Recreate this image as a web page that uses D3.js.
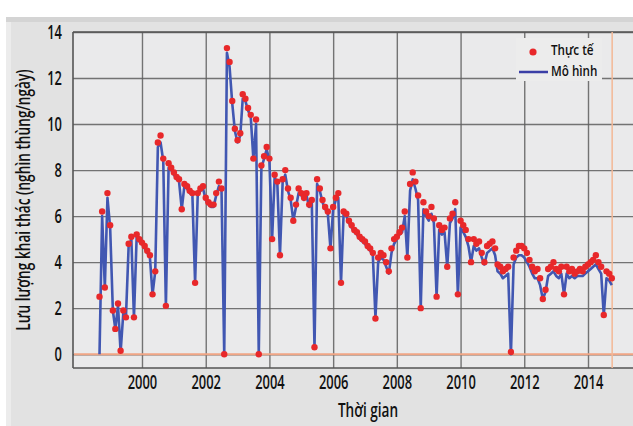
<!DOCTYPE html>
<html>
<head>
<meta charset="utf-8">
<script src="https://cdn.jsdelivr.net/npm/d3@7"></script>
<style>
  body { margin: 0; background: #fff; }
  svg text { font-family: "Open Sans", "Noto Sans", "DejaVu Sans", sans-serif; font-weight: 600; fill: #111; }
</style>
</head>
<body>
<div id="vis"></div>
<script>
// monthly series, first value = Sep 1998
var startMonth = "1998-09";

var actual = [
  2.5, 6.2, 2.9, 7.0,                                                  // 1998
  5.6, 1.9, 1.1, 2.2, 0.15, 1.9, 1.6, 4.8, 5.1, 1.6, 5.2, 5.0,         // 1999
  4.85, 4.7, 4.5, 4.3, 2.6, 3.6, 9.2, 9.5, 8.5, 2.1, 8.3, 8.1,         // 2000
  7.9, 7.7, 7.6, 6.3, 7.4, 7.3, 7.1, 7.0, 3.1, 7.0, 7.2, 7.3,          // 2001
  6.8, 6.6, 6.5, 6.5, 7.0, 7.5, 7.2, 0.0, 13.3, 12.7, 11.0, 9.8,       // 2002
  9.3, 9.6, 11.3, 11.1, 10.7, 10.4, 8.5, 10.2, 0.0, 8.2, 8.6, 9.0,     // 2003
  8.5, 5.0, 7.8, 7.5, 4.3, 7.6, 8.0, 7.2, 6.8, 5.8, 6.5, 7.2,          // 2004
  7.0, 6.8, 7.0, 6.5, 6.7, 0.3, 7.6, 7.2, 6.7, 6.4, 6.2, 4.6,          // 2005
  6.4, 6.8, 7.0, 3.1, 6.2, 6.1, 5.8, 5.6, 5.4, 5.3, 5.1, 5.0,          // 2006
  4.9, 4.7, 4.6, 4.4, 1.55, 4.2, 4.4, 4.3, 4.0, 3.6, 4.6, 5.0,         // 2007
  5.1, 5.3, 5.5, 6.2, 4.2, 7.4, 7.9, 7.5, 6.9, 2.0, 6.6, 6.2,          // 2008
  6.0, 6.4, 5.9, 2.5, 5.6, 5.4, 5.5, 3.8, 5.9, 6.1, 6.6, 2.6,          // 2009
  5.8, 5.6, 5.4, 5.0, 4.0, 5.0, 4.8, 4.9, 4.4, 4.0, 4.7, 4.8,          // 2010
  4.9, 4.6, 3.9, 3.8, 3.6, 3.7, 3.8, 0.1, 4.2, 4.5, 4.7, 4.7,          // 2011
  4.6, 4.4, 4.1, 3.8, 3.6, 3.7, 3.3, 2.4, 2.8, 3.7, 3.8, 4.0,          // 2012
  3.7, 3.6, 3.8, 2.6, 3.8, 3.6, 3.7, 3.5, 3.6, 3.7, 3.6, 3.8,          // 2013
  3.9, 4.0, 4.1, 4.3, 4.0, 3.8, 1.7, 3.6, 3.5, 3.3                     // 2014
];

var model = [
  0.0, 6.0, 2.9, 6.8,
  5.5, 1.9, 1.1, 2.1, 0.1, 1.8, 1.6, 4.7, 5.0, 1.6, 5.1, 4.9,
  4.8, 4.6, 4.4, 4.2, 2.6, 3.6, 9.0, 9.2, 8.4, 2.1, 8.1, 8.0,
  7.8, 7.6, 7.5, 6.3, 7.3, 7.2, 7.0, 6.9, 3.1, 6.9, 7.1, 7.2,
  6.7, 6.5, 6.4, 6.4, 6.9, 7.3, 7.1, 0.0, 13.1, 12.5, 10.9, 9.7,
  9.2, 9.5, 11.1, 11.0, 10.6, 10.3, 8.5, 10.0, 0.0, 8.1, 8.5, 8.9,
  8.4, 5.0, 7.7, 7.4, 4.3, 7.5, 7.8, 7.1, 6.7, 5.8, 6.4, 7.0,
  6.9, 6.7, 6.9, 6.4, 6.6, 0.3, 7.4, 7.1, 6.6, 6.3, 6.1, 4.6,
  6.3, 6.7, 6.8, 3.1, 6.1, 6.0, 5.7, 5.5, 5.3, 5.2, 5.0, 4.9,
  4.8, 4.6, 4.5, 4.3, 1.6, 4.0, 4.2, 4.1, 3.8, 3.5, 4.4, 4.8,
  5.0, 5.2, 5.3, 6.0, 4.2, 7.1, 7.6, 7.2, 6.7, 2.0, 6.3, 6.0,
  5.8, 6.1, 5.7, 2.5, 5.4, 5.2, 5.3, 3.8, 5.7, 5.9, 6.3, 2.6,
  5.5, 5.3, 5.1, 4.7, 4.0, 4.7, 4.5, 4.6, 4.2, 3.9, 4.4, 4.5,
  4.6, 4.3, 3.6, 3.5, 3.3, 3.4, 3.5, 0.0, 3.9, 4.2, 4.3, 4.3,
  4.2, 4.0, 3.8, 3.5, 3.3, 3.3, 3.0, 2.4, 2.7, 3.4, 3.5, 3.6,
  3.4, 3.3, 3.5, 2.6, 3.5, 3.3, 3.4, 3.3, 3.4, 3.4, 3.4, 3.5,
  3.6, 3.7, 3.8, 3.9, 3.7, 3.5, 1.7, 3.3, 3.2, 3.0
];

var yTicks = [0, 2, 4, 6, 8, 10, 12, 14];
var xTickYears = [2000, 2002, 2004, 2006, 2008, 2010, 2012, 2014];
var cutoffDate = "2014-10-05";

var seriesNames = ["Thực tế", "Mô hình"];
var xTitle = "Thời gian";
var yTitle = "Lưu lượng khai thác (nghìn thùng/ngày)";

// layout
var width = 633, height = 426;
var plot = { left: 73, right: 633, top: 32, bottom: 368 };
var SQ = 0.68; // horizontal squeeze to mimic a condensed face

var parseMonth = d3.timeParse("%Y-%m");
var parseDay = d3.timeParse("%Y-%m-%d");
var start = parseMonth(startMonth);

var data = actual.map(function (v, i) {
  return { date: d3.timeMonth.offset(start, i), actual: v, model: model[i] };
});

var x = d3.scaleTime()
  .domain([new Date(1997, 10, 1), new Date(2015, 5, 1)])
  .range([plot.left, plot.right]);

var y = d3.scaleLinear()
  .domain([-0.6, 14])
  .range([plot.bottom, plot.top]);

function squeeze(sel, k) {
  k = k || SQ;
  sel.each(function () {
    var t = d3.select(this);
    var tx = +t.attr("x") || 0;
    t.attr("x", tx / k).attr("transform", "scale(" + k + ",1)");
  });
}

var svg = d3.select("#vis").append("svg")
  .attr("width", width)
  .attr("height", height);

// outer panel
svg.append("rect").attr("x", 6).attr("y", 17).attr("width", width - 6).attr("height", height - 17).attr("fill", "#e2e2e2");
svg.append("rect").attr("x", 6).attr("y", 17).attr("width", width - 6).attr("height", 5).attr("fill", "#d4d4d4");
svg.append("rect").attr("x", 6).attr("y", 22).attr("width", 5).attr("height", height - 22).attr("fill", "#ececec");

// plot background
svg.append("rect")
  .attr("x", plot.left).attr("y", plot.top)
  .attr("width", plot.right - plot.left).attr("height", plot.bottom - plot.top)
  .attr("fill", "#eaeaeb");

var fontSize = 19;

// y grid + labels
var gy = svg.append("g")
  .attr("class", "y axis")
  .attr("transform", "translate(" + plot.left + ",0)")
  .call(d3.axisLeft(y).tickValues(yTicks).tickSize(-(plot.right - plot.left)).tickPadding(11));
gy.select(".domain").remove();
gy.selectAll("line").attr("stroke", "#5e5e5e").attr("stroke-width", 1.4).attr("stroke-opacity", 0.85);
gy.selectAll("text").attr("font-size", fontSize).attr("fill", "#111").call(squeeze);

// x grid + labels
var xTickDates = xTickYears.map(function (yr) { return new Date(yr, 0, 1); });
var gx = svg.append("g")
  .attr("class", "x axis")
  .attr("transform", "translate(0," + plot.bottom + ")")
  .call(d3.axisBottom(x).tickValues(xTickDates).tickFormat(d3.timeFormat("%Y"))
    .tickSize(-(plot.bottom - plot.top)).tickPadding(8));
gx.select(".domain").remove();
gx.selectAll("line").attr("stroke", "#5e5e5e").attr("stroke-width", 1.4).attr("stroke-opacity", 0.85);
gx.selectAll("text").attr("font-size", fontSize).attr("fill", "#111").call(squeeze);

// frame
var frame = svg.append("g").attr("fill", "none").attr("stroke", "#555").attr("stroke-width", 1.6);
frame.append("line").attr("x1", plot.left).attr("x2", plot.right).attr("y1", plot.top).attr("y2", plot.top);
frame.append("line").attr("x1", plot.left).attr("x2", plot.right).attr("y1", plot.bottom).attr("y2", plot.bottom);
frame.append("line").attr("x1", plot.left).attr("x2", plot.left).attr("y1", plot.top).attr("y2", plot.bottom);

// zero line and cutoff
svg.append("line")
  .attr("x1", plot.left + 1).attr("x2", plot.right)
  .attr("y1", y(0)).attr("y2", y(0))
  .attr("stroke", "#f0a585").attr("stroke-width", 2);
svg.append("line")
  .attr("x1", x(parseDay(cutoffDate))).attr("x2", x(parseDay(cutoffDate)))
  .attr("y1", plot.top).attr("y2", plot.bottom)
  .attr("stroke", "#f3b896").attr("stroke-width", 1.5);

// model line
var line = d3.line()
  .x(function (d) { return x(d.date); })
  .y(function (d) { return y(d.model); });

svg.append("path")
  .datum(data)
  .attr("fill", "none")
  .attr("stroke", "#4157b2")
  .attr("stroke-width", 2.6)
  .attr("stroke-linejoin", "round")
  .attr("d", line);

// actual points
svg.append("g").selectAll("circle")
  .data(data)
  .enter().append("circle")
  .attr("cx", function (d) { return x(d.date); })
  .attr("cy", function (d) { return y(d.actual); })
  .attr("r", 3.2)
  .attr("fill", "#e8282a");

// legend
var lg = svg.append("g").attr("transform", "translate(516,38)");
lg.append("rect").attr("width", 86).attr("height", 43).attr("fill", "#ececec");
lg.append("circle").attr("cx", 17).attr("cy", 14).attr("r", 3.6).attr("fill", "#e8282a");
lg.append("line").attr("x1", 3).attr("x2", 32).attr("y1", 34).attr("y2", 34)
  .attr("stroke", "#3b3fa6").attr("stroke-width", 2.5);
lg.selectAll("text.lg")
  .data(seriesNames)
  .enter().append("text")
  .attr("class", "lg")
  .attr("x", 35)
  .attr("y", function (d, i) { return i === 0 ? 12 : 33; })
  .attr("dy", "0.35em")
  .attr("font-size", 15)
  .text(function (d) { return d; })
  .call(squeeze, 0.78);

// titles
svg.append("g")
  .attr("transform", "translate(" + (plot.left + 663) / 2 + ",410)")
  .append("text")
  .attr("text-anchor", "middle").attr("dy", "0.35em")
  .attr("font-size", 20)
  .attr("transform", "scale(" + SQ + ",1)")
  .text(xTitle);

svg.append("text")
  .attr("transform", "translate(23,200) rotate(-90) scale(" + 0.72 + ",1)")
  .attr("text-anchor", "middle").attr("dy", "0.35em")
  .attr("font-size", 19)
  .text(yTitle);
</script>
</body>
</html>
